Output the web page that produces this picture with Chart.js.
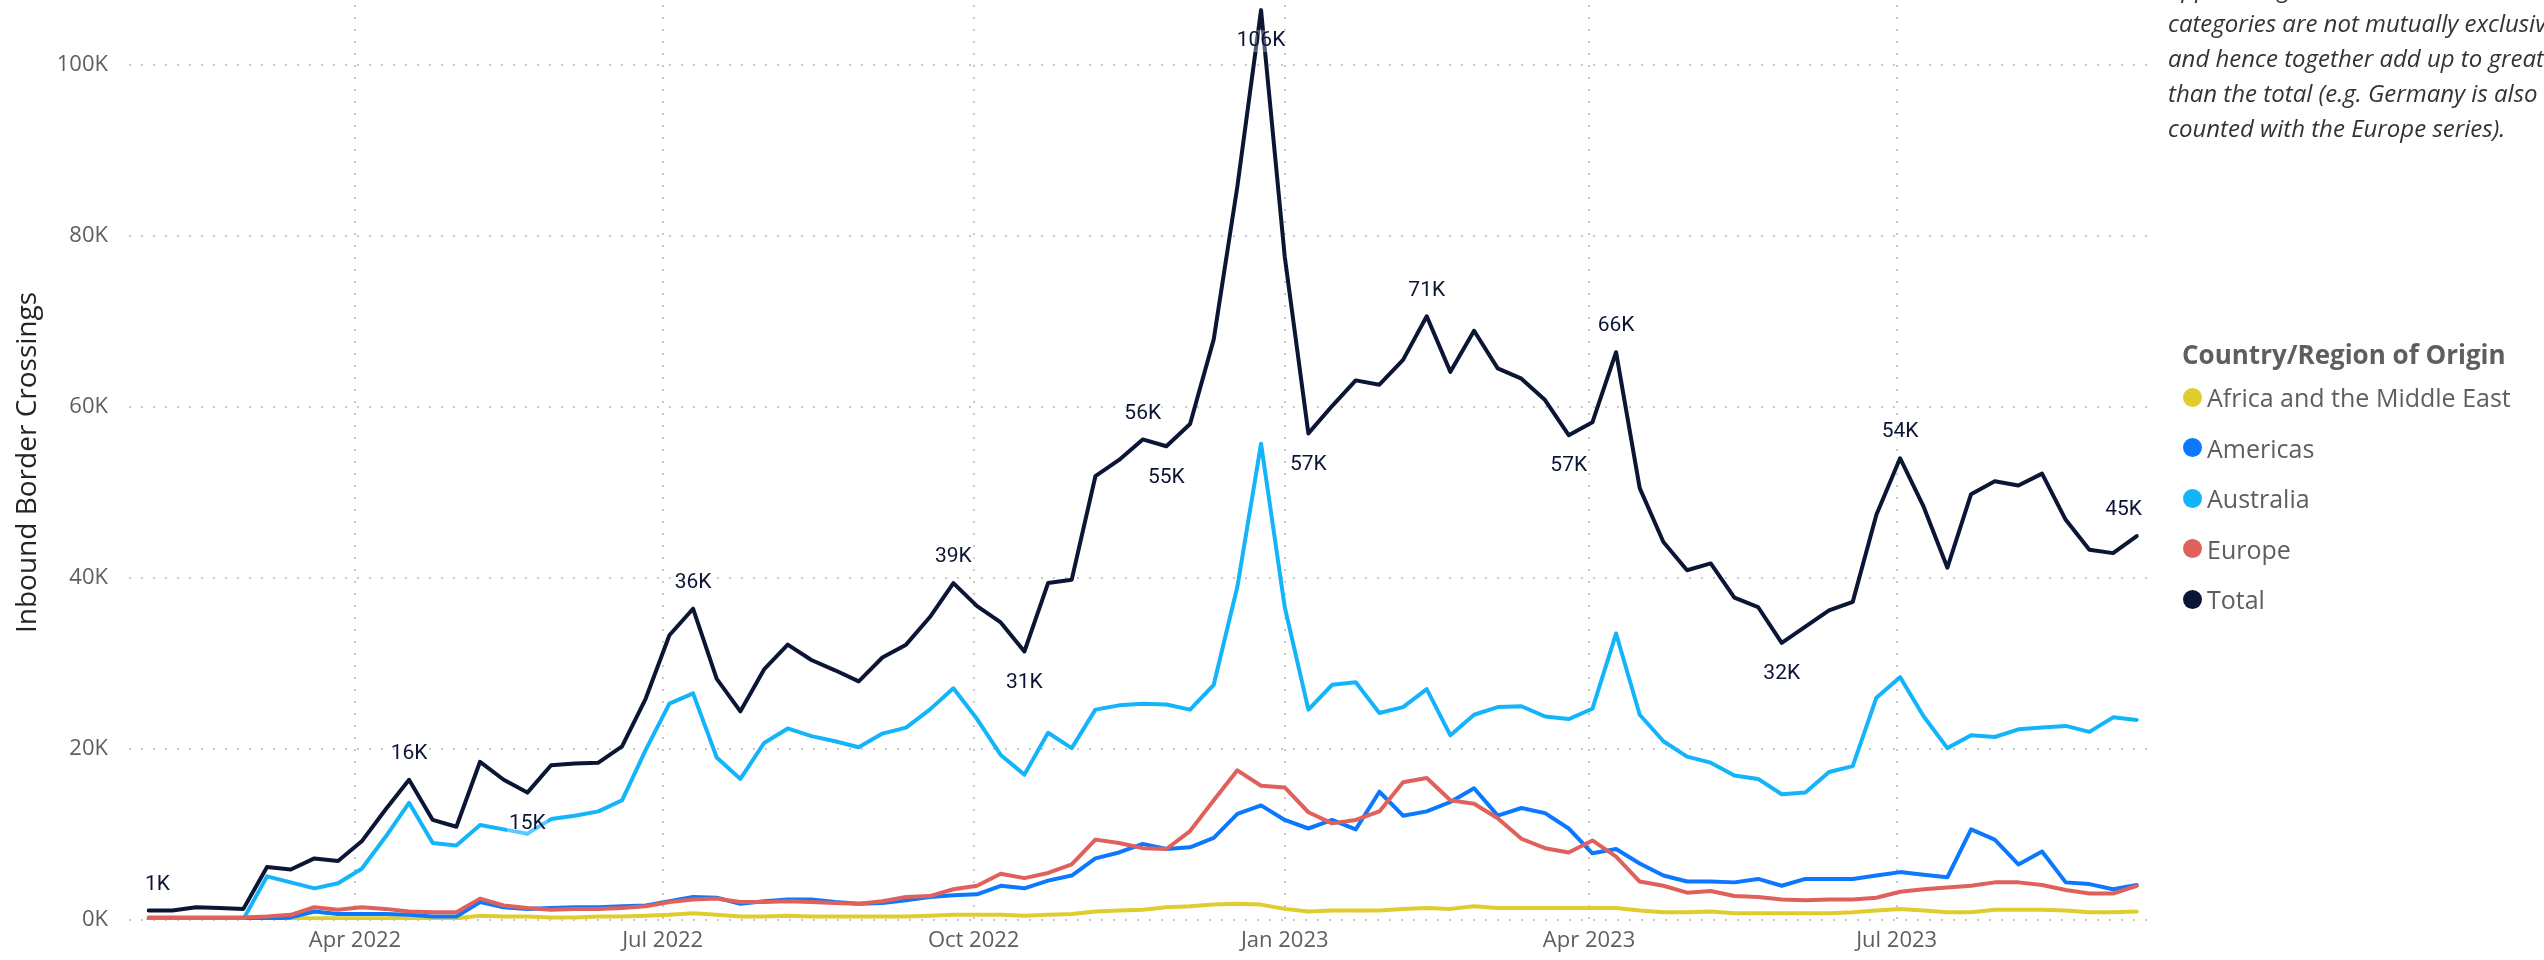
<!DOCTYPE html>
<html lang="en">
<head>
  <meta charset="UTF-8">
  <title>Inbound Border Crossings by Country/Region of Origin</title>
  <script src="https://cdn.jsdelivr.net/npm/chart.js@4.4.1/dist/chart.umd.min.js"></script>
  <style>
    html, body { margin: 0; padding: 0; background: #fff; overflow: hidden; }
    .wrap { position: relative; width: 2544px; height: 960px; overflow: hidden; }
    #crossings { position: absolute; left: 0; top: 0; }
    .note {
      position: absolute; left: 2168px; top: -30px;
      font: italic 24px 'Segoe UI', 'Open Sans', sans-serif;
      line-height: 35px; color: #333; white-space: pre;
    }
    .legend {
      position: absolute; left: 2182px; top: 336px;
      font-family: 'Segoe UI', 'Open Sans', sans-serif; color: #605E5C;
    }
    .legend-title { font-weight: bold; font-size: 26px; line-height: 36px; height: 36px; white-space: nowrap; }
    .legend-item { display: flex; align-items: center; height: 50.5px; font-size: 25px; white-space: nowrap; }
    .legend-item .dot { width: 19px; height: 19px; border-radius: 50%; margin: 0 5px 0 1px; }
  </style>
</head>
<body>
  <div class="wrap">
    <canvas id="crossings" width="2544" height="960"></canvas>
    <div class="note">Approx. region
categories are not mutually exclusive
and hence together add up to greater
than the total (e.g. Germany is also
counted with the Europe series).</div>
    <div class="legend" id="legend">
      <div class="legend-title">Country/Region of Origin</div>
    </div>
  </div>

  <script>
    // week starting dates (Sundays)
    const weeks = [
      '2022-01-30', '2022-02-06', '2022-02-13', '2022-02-20', '2022-02-27',
      '2022-03-06', '2022-03-13', '2022-03-20', '2022-03-27',
      '2022-04-03', '2022-04-10', '2022-04-17', '2022-04-24',
      '2022-05-01', '2022-05-08', '2022-05-15', '2022-05-22', '2022-05-29',
      '2022-06-05', '2022-06-12', '2022-06-19', '2022-06-26',
      '2022-07-03', '2022-07-10', '2022-07-17', '2022-07-24', '2022-07-31',
      '2022-08-07', '2022-08-14', '2022-08-21', '2022-08-28',
      '2022-09-04', '2022-09-11', '2022-09-18', '2022-09-25',
      '2022-10-02', '2022-10-09', '2022-10-16', '2022-10-23', '2022-10-30',
      '2022-11-06', '2022-11-13', '2022-11-20', '2022-11-27',
      '2022-12-04', '2022-12-11', '2022-12-18', '2022-12-25',
      '2023-01-01', '2023-01-08', '2023-01-15', '2023-01-22', '2023-01-29',
      '2023-02-05', '2023-02-12', '2023-02-19', '2023-02-26',
      '2023-03-05', '2023-03-12', '2023-03-19', '2023-03-26',
      '2023-04-02', '2023-04-09', '2023-04-16', '2023-04-23', '2023-04-30',
      '2023-05-07', '2023-05-14', '2023-05-21', '2023-05-28',
      '2023-06-04', '2023-06-11', '2023-06-18', '2023-06-25',
      '2023-07-02', '2023-07-09', '2023-07-16', '2023-07-23', '2023-07-30',
      '2023-08-06', '2023-08-13', '2023-08-20', '2023-08-27',
      '2023-09-03', '2023-09-10'
    ];

    // crossings per week, in thousands
    const africaMiddleEast = [
      0.1, 0.1, 0.1, 0.1, 0.1, 0.1, 0.2, 0.2, 0.2, 0.2, 0.2, 0.2, 0.2, 0.2, 0.5, 0.4, 0.4,
      0.3, 0.3, 0.4, 0.4, 0.5, 0.6, 0.8, 0.6, 0.4, 0.4, 0.5, 0.4, 0.4, 0.4, 0.4, 0.4, 0.5,
      0.6, 0.6, 0.6, 0.5, 0.6, 0.7, 1.0, 1.1, 1.2, 1.5, 1.6, 1.8, 1.9, 1.8, 1.3, 1.0, 1.1,
      1.1, 1.1, 1.3, 1.4, 1.3, 1.6, 1.4, 1.4, 1.4, 1.4, 1.4, 1.4, 1.1, 0.9, 0.9, 1.0, 0.8,
      0.8, 0.8, 0.8, 0.8, 0.9, 1.1, 1.3, 1.1, 0.9, 0.9, 1.2, 1.2, 1.2, 1.1, 0.9, 0.9, 1.0
    ];
    const americas = [
      0.1, 0.1, 0.1, 0.1, 0.1, 0.1, 0.3, 1.0, 0.7, 0.7, 0.7, 0.6, 0.4, 0.4, 2.1, 1.5, 1.3,
      1.4, 1.5, 1.5, 1.6, 1.7, 2.2, 2.7, 2.6, 1.9, 2.2, 2.4, 2.4, 2.1, 1.9, 2.0, 2.3, 2.7,
      2.9, 3.0, 4.0, 3.7, 4.6, 5.2, 7.2, 7.9, 8.9, 8.3, 8.5, 9.6, 12.4, 13.4, 11.7, 10.7, 11.7,
      10.6, 15.0, 12.2, 12.7, 13.8, 15.4, 12.2, 13.1, 12.5, 10.7, 7.8, 8.3, 6.6, 5.2, 4.5, 4.5, 4.4,
      4.8, 4.0, 4.8, 4.8, 4.8, 5.2, 5.6, 5.3, 5.0, 10.6, 9.4, 6.5, 8.0, 4.4, 4.2, 3.6, 4.1
    ];
    const australia = [
      0.0, 0.0, 0.0, 0.0, 0.1, 5.1, 4.4, 3.7, 4.3, 6.0, 9.7, 13.7, 9.0, 8.7, 11.1, 10.6, 10.1,
      11.8, 12.2, 12.7, 14.0, 19.9, 25.3, 26.5, 19.0, 16.5, 20.7, 22.4, 21.5, 20.9, 20.2, 21.8, 22.5, 24.6,
      27.1, 23.5, 19.3, 17.0, 21.9, 20.1, 24.6, 25.1, 25.3, 25.2, 24.6, 27.5, 39.0, 55.7, 36.6, 24.6, 27.5,
      27.8, 24.2, 24.9, 27.0, 21.6, 24.0, 24.9, 25.0, 23.8, 23.5, 24.7, 33.5, 24.0, 20.9, 19.1, 18.4, 16.9,
      16.5, 14.7, 14.9, 17.3, 18.0, 26.0, 28.4, 23.8, 20.1, 21.6, 21.4, 22.3, 22.5, 22.7, 22.0, 23.7, 23.4
    ];
    const europe = [
      0.3, 0.3, 0.3, 0.3, 0.3, 0.4, 0.6, 1.5, 1.2, 1.5, 1.3, 1.0, 0.9, 0.9, 2.5, 1.7, 1.4,
      1.2, 1.3, 1.3, 1.4, 1.6, 2.1, 2.4, 2.5, 2.1, 2.1, 2.2, 2.1, 2.0, 1.9, 2.2, 2.7, 2.8,
      3.6, 4.0, 5.4, 4.9, 5.5, 6.5, 9.4, 9.0, 8.4, 8.3, 10.4, 14.0, 17.5, 15.7, 15.5, 12.6, 11.3,
      11.7, 12.7, 16.1, 16.6, 14.0, 13.6, 11.9, 9.5, 8.4, 7.9, 9.3, 7.4, 4.5, 4.0, 3.2, 3.4, 2.8,
      2.7, 2.4, 2.3, 2.4, 2.4, 2.6, 3.3, 3.6, 3.8, 4.0, 4.4, 4.4, 4.1, 3.5, 3.1, 3.1, 4.0
    ];
    const total = [
      1.1, 1.1, 1.5, 1.4, 1.3, 6.2, 5.9, 7.2, 6.9, 9.2, 12.9, 16.4, 11.7, 10.9, 18.5, 16.4, 14.9,
      18.1, 18.3, 18.4, 20.3, 25.9, 33.3, 36.4, 28.2, 24.4, 29.3, 32.2, 30.4, 29.2, 27.9, 30.7, 32.2, 35.4,
      39.4, 36.7, 34.8, 31.4, 39.4, 39.8, 51.9, 53.8, 56.2, 55.4, 58.0, 67.9, 85.8, 106.4, 77.6, 56.9, 60.1,
      63.1, 62.6, 65.5, 70.6, 64.1, 68.9, 64.5, 63.3, 60.8, 56.7, 58.2, 66.4, 50.5, 44.2, 40.9, 41.7, 37.7,
      36.6, 32.4, 34.3, 36.2, 37.2, 47.4, 54.0, 48.3, 41.2, 49.8, 51.3, 50.8, 52.2, 46.8, 43.3, 42.9, 44.9
    ];

    // weeks of the Total series that carry a value label, and those printed under the line
    const labelWeeks = [0, 11, 16, 23, 34, 37, 42, 43, 47, 49, 54, 60, 62, 69, 74, 84];
    const labelBelow = [16, 37, 43, 47, 49, 60, 69];

    const yTicks = [0, 20, 40, 60, 80, 100];
    const xTickDates = ['2022-04-01', '2022-07-01', '2022-10-01', '2023-01-01', '2023-04-01', '2023-07-01'];
    const xTickLabels = ['Apr 2022', 'Jul 2022', 'Oct 2022', 'Jan 2023', 'Apr 2023', 'Jul 2023'];

    const series = [
      { label: 'Africa and the Middle East', values: africaMiddleEast, color: '#DFCD2E', order: 4 },
      { label: 'Americas', values: americas, color: '#0C78FE', order: 3 },
      { label: 'Australia', values: australia, color: '#14B4FB', order: 2 },
      { label: 'Europe', values: europe, color: '#E0605C', order: 1 },
      { label: 'Total', values: total, color: '#0B1535', order: 0 }
    ];

    const fontFamily = "'Segoe UI', 'Open Sans', sans-serif";
    const grey = '#605E5C';

    const totalLabels = {
      id: 'totalLabels',
      afterDatasetsDraw(chart) {
        const idx = chart.data.datasets.findIndex(d => d.label === 'Total');
        const meta = chart.getDatasetMeta(idx);
        const area = chart.chartArea;
        const ctx = chart.ctx;
        ctx.save();
        ctx.font = '21px Roboto, sans-serif';
        ctx.textAlign = 'center';
        ctx.textBaseline = 'middle';
        labelWeeks.forEach(i => {
          const pt = meta.data[i];
          const text = Math.round(total[i]) + 'K';
          const w = ctx.measureText(text).width;
          const x = Math.min(Math.max(pt.x, area.left + 16 + w / 2), area.right - 6 - w / 2);
          const y = labelBelow.includes(i) ? pt.y + 31 : pt.y - 26;
          ctx.fillStyle = 'rgba(255, 255, 255, 0.3)';
          ctx.fillRect(x - w / 2 - 2, y - 11, w + 4, 22);
          ctx.fillStyle = '#0B1535';
          ctx.fillText(text, x, y);
        });
        ctx.restore();
      }
    };

    const chart = new Chart(document.getElementById('crossings'), {
      type: 'line',
      data: {
        datasets: series.map(s => ({
          label: s.label,
          data: s.values.map((v, i) => ({ x: Date.parse(weeks[i]), y: v })),
          borderColor: s.color,
          backgroundColor: s.color,
          borderWidth: 4,
          borderJoinStyle: 'round',
          borderCapStyle: 'round',
          pointRadius: 0,
          tension: 0,
          order: s.order
        }))
      },
      options: {
        responsive: false,
        animation: false,
        layout: { padding: { top: 5, right: 396, left: 0, bottom: 0 } },
        plugins: {
          legend: { display: false },
          tooltip: { enabled: false }
        },
        scales: {
          x: {
            type: 'linear',
            min: Date.parse('2022-01-24T04:00:00Z'),
            max: Date.parse('2023-09-13T08:00:00Z'),
            afterBuildTicks: scale => {
              scale.ticks = xTickDates.map(d => ({ value: Date.parse(d) }));
            },
            afterFit: scale => {
              scale.height = 40;
              scale.paddingLeft = 0;
              scale.paddingRight = 0;
            },
            ticks: {
              autoSkip: false,
              maxRotation: 0,
              padding: 8,
              color: grey,
              font: { family: fontFamily, size: 22 },
              callback: value => xTickLabels[xTickDates.findIndex(d => Date.parse(d) === value)]
            },
            grid: { color: '#C8C8C8', lineWidth: 2, drawTicks: false },
            border: { display: false, dash: [2, 10] }
          },
          y: {
            min: 0,
            max: 107,
            afterBuildTicks: scale => {
              scale.ticks = yTicks.map(v => ({ value: v }));
            },
            afterFit: scale => {
              scale.width = 129;
              scale.paddingTop = 0;
              scale.paddingBottom = 0;
            },
            ticks: {
              padding: 21,
              color: grey,
              font: { family: fontFamily, size: 22 },
              callback: value => value + 'K'
            },
            grid: { color: '#C8C8C8', lineWidth: 2, drawTicks: false },
            border: { display: false, dash: [2, 10] },
            title: {
              display: true,
              text: 'Inbound Border Crossings',
              color: '#252423',
              font: { family: fontFamily, size: 28 },
              padding: { top: 11, bottom: 0 }
            }
          }
        }
      },
      plugins: [totalLabels]
    });

    // legend on the right, built from the datasets
    const legend = document.getElementById('legend');
    chart.data.datasets.forEach(ds => {
      const item = document.createElement('div');
      item.className = 'legend-item';
      const dot = document.createElement('span');
      dot.className = 'dot';
      dot.style.background = ds.borderColor;
      item.appendChild(dot);
      item.appendChild(document.createTextNode(ds.label));
      legend.appendChild(item);
    });
  </script>
</body>
</html>
